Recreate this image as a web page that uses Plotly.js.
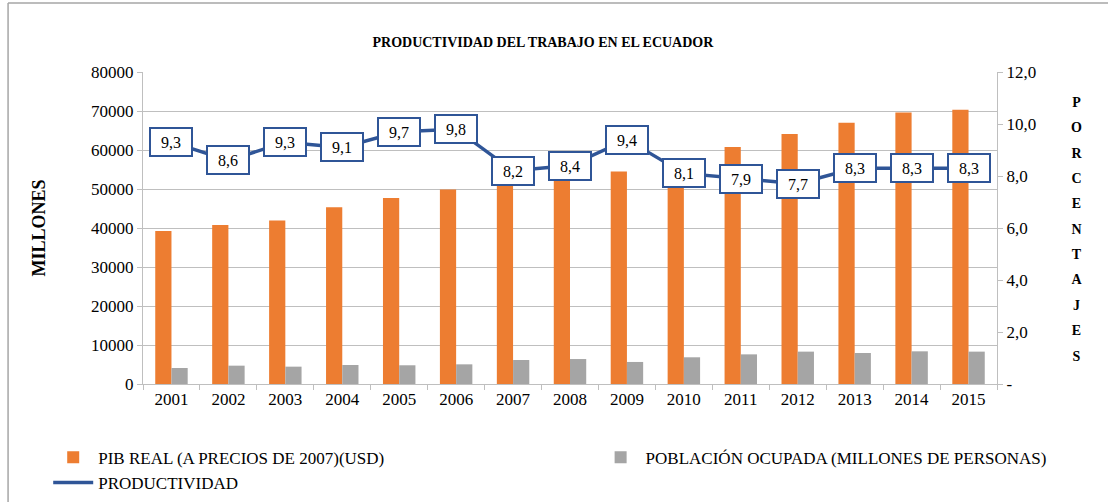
<!DOCTYPE html>
<html>
<head>
<meta charset="utf-8">
<script src="https://cdn.plot.ly/plotly-3.0.1.min.js"></script>
<style>html,body{margin:0;padding:0;background:#fff;}#chart{width:1108px;height:502px;}</style>
</head>
<body>
<div id="chart"></div>
<script>
var years = ['2001','2002','2003','2004','2005','2006','2007','2008','2009','2010','2011','2012','2013','2014','2015'];
var pibReal = [39200, 40800, 41900, 45300, 47700, 49900, 50900, 54200, 54500, 56500, 60800, 64100, 67000, 69600, 70300];
var poblacionOcupada = [4100, 4700, 4450, 4870, 4800, 5040, 6150, 6400, 5650, 6850, 7600, 8300, 7950, 8380, 8300];
var productividad = [9.3, 8.6, 9.3, 9.1, 9.7, 9.8, 8.2, 8.4, 9.4, 8.1, 7.9, 7.7, 8.3, 8.3, 8.3];
var leftTicks = [0, 10000, 20000, 30000, 40000, 50000, 60000, 70000, 80000];
var rightTicks = [0, 2, 4, 6, 8, 10, 12];
var rightTickText = ['-', '2,0', '4,0', '6,0', '8,0', '10,0', '12,0'];
var rightTitle = 'PORCENTAJES';

var serif = 'Liberation Serif, Times New Roman, serif';
var blue = '#2F5597';

var traces = [
  {type:'bar', name:'PIB REAL (A PRECIOS DE 2007)(USD)', x:years, y:pibReal,
   marker:{color:'#ED7D31'}, hoverinfo:'x+y', legend:'legend'},
  {type:'bar', name:'POBLACIÓN OCUPADA (MILLONES DE PERSONAS)', x:years, y:poblacionOcupada,
   marker:{color:'#A5A5A5'}, hoverinfo:'x+y', legend:'legend2'},
  {type:'scatter', mode:'lines', name:'PRODUCTIVIDAD', x:years, y:productividad, yaxis:'y2',
   line:{color:blue, width:3.5}, legend:'legend'}
];

var annotations = productividad.map(function(v, i){
  return {x:i, y:v, xref:'x', yref:'y2', text:v.toFixed(1).replace('.', ','),
    showarrow:false, bgcolor:'#ffffff', bordercolor:blue, borderwidth:2, borderpad:3,
    width:34, height:20, font:{family:serif, size:16, color:'#000'}};
});
annotations.push({
  xref:'paper', yref:'paper', x:1.093, y:0.495, xanchor:'center', yanchor:'middle', showarrow:false,
  text: rightTitle.split('').map(function(c){return '<span style="font-size:14px">'+c+'</span>';}).join('<br>'),
  font:{family:serif, size:19.5, color:'#000', weight:'bold'}
});

var legendFont = {family:serif, size:17, color:'#000'};

var layout = {
  width:1108, height:502,
  margin:{l:143, r:111, t:72, b:118},
  paper_bgcolor:'#fff', plot_bgcolor:'#fff',
  font:{family:serif, color:'#000'},
  title:{text:'<b>PRODUCTIVIDAD DEL TRABAJO EN EL ECUADOR</b>', xref:'container', x:0.49, xanchor:'center',
         yref:'container', y:0.916, yanchor:'middle', font:{family:serif, size:14, color:'#000'}},
  barmode:'group', bargap:0.43, bargroupgap:0,
  showlegend:true,
  legend:{orientation:'v', x:-0.111, xanchor:'left', yref:'container', y:0.124, yanchor:'top', tracegroupgap:0,
          font:legendFont, traceorder:'normal', itemwidth:40, bgcolor:'rgba(0,0,0,0)'},
  legend2:{orientation:'v', x:0.53, xanchor:'left', yref:'container', y:0.124, yanchor:'top',
          font:legendFont, itemwidth:40, bgcolor:'rgba(0,0,0,0)'},
  xaxis:{type:'category', range:[-0.5, 14.5], tickfont:{family:serif, size:17, color:'#000'}, showgrid:false,
         showline:true, linecolor:'#BFBFBF', linewidth:1, ticks:'outside', tickson:'boundaries',
         tickcolor:'#BFBFBF', ticklen:5},
  yaxis:{range:[0, 80000], tickvals:leftTicks, tickformat:'d', tickfont:{family:serif, size:17, color:'#000'},
         showgrid:true, gridcolor:'#BFBFBF', gridwidth:1, zeroline:false, showline:true, linecolor:'#BFBFBF',
         ticks:'outside', tickcolor:'#BFBFBF', ticklen:5,
         title:{text:'<b>MILLONES</b>', font:{family:serif, size:18, color:'#000'}, standoff:40}},
  yaxis2:{range:[0, 12], overlaying:'y', side:'right', tickvals:rightTicks, ticktext:rightTickText,
          tickfont:{family:serif, size:17, color:'#000'}, showgrid:false, zeroline:false, showline:true,
          linecolor:'#BFBFBF', ticks:'outside', tickcolor:'#BFBFBF', ticklen:5},
  annotations:annotations,
  shapes:[
    {type:'line', xref:'paper', yref:'paper', x0:-0.158, x1:-0.158, y0:-0.38, y1:1.221,
     line:{color:'#A6A6A6', width:1.5}},
    {type:'line', xref:'paper', yref:'paper', x0:-0.158, x1:1.14, y0:1.221, y1:1.221,
     line:{color:'#A6A6A6', width:1.5}}
  ]
};

Plotly.newPlot('chart', traces, layout, {displayModeBar:false, staticPlot:true});
</script>
</body>
</html>
